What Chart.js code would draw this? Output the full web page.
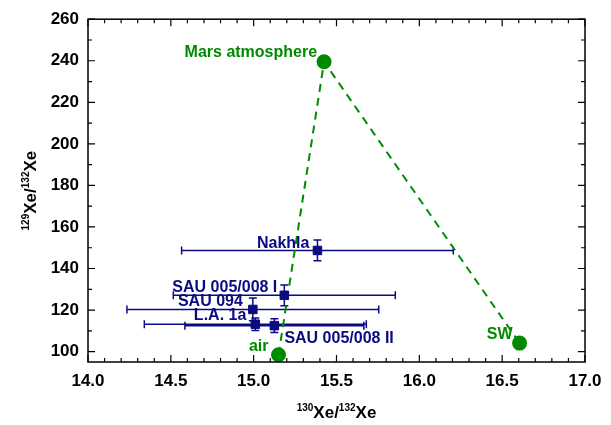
<!DOCTYPE html>
<html>
<head>
<meta charset="utf-8">
<script src="https://cdn.jsdelivr.net/npm/chart.js@4.4.0/dist/chart.umd.min.js"></script>
<style>
  html, body { margin: 0; padding: 0; background: #fff; }
  #wrap { width: 611px; height: 425px; }
</style>
</head>
<body>
<div id="wrap"><canvas id="chart"></canvas></div>
<script>
// meteorite samples
const samples = ['Nakhla', 'SAU 005/008 I', 'SAU 094', 'L.A. 1a', 'SAU 005/008 II'];
const xe130 = [15.385, 15.185, 14.995, 15.01, 15.125];
const xe129 = [148.7, 127.1, 120.3, 113.2, 112.5];
const xe130Err = [0.82, 0.67, 0.76, 0.67, 0.54];
const xe129Err = [5, 5, 5.5, 3, 3.3];

// reference reservoirs (dashed line goes air -> Mars -> SW)
const refNames = ['air', 'Mars atmosphere', 'SW'];
const ref130 = [15.15, 15.425, 16.605];
const ref129 = [98.5, 239.5, 104.1];

const xTicks = [14.0, 14.5, 15.0, 15.5, 16.0, 16.5, 17.0];
const yTicks = [100, 120, 140, 160, 180, 200, 220, 240, 260];

const GREEN = '#008a00';
const NAVY = '#0a0a82';
const FONT = '"Liberation Sans", Arial, sans-serif';

// where each text label sits relative to its point
const sampleLabelPos = [
    { dx: -8, dy: -2, align: 'right' },
    { dx: -7, dy: -3, align: 'right' },
    { dx: -10, dy: -3, align: 'right' },
    { dx: -9, dy: -4, align: 'right' },
    { dx: 10, dy: 17, align: 'left' }
];
const refLabelPos = [
    { dx: -10, dy: -4, align: 'right' },
    { dx: -7, dy: -5, align: 'right' },
    { dx: -7, dy: -4, align: 'right' }
];

function drawRich(ctx, parts, x, y) {
    // parts: [text, isSup]
    let total = 0;
    parts.forEach(p => {
        ctx.font = p[1] ? 'bold 10px ' + FONT : 'bold 17px ' + FONT;
        total += ctx.measureText(p[0]).width;
    });
    let cx = x - total / 2;
    ctx.textAlign = 'left';
    ctx.textBaseline = 'alphabetic';
    parts.forEach(p => {
        ctx.font = p[1] ? 'bold 10px ' + FONT : 'bold 17px ' + FONT;
        ctx.fillText(p[0], cx, p[1] ? y - 7 : y);
        cx += ctx.measureText(p[0]).width;
    });
}

const decorations = {
    id: 'decorations',
    beforeDatasetsDraw(chart) {
        const ctx = chart.ctx;
        const xs = chart.scales.x, ys = chart.scales.y;
        ctx.save();
        ctx.strokeStyle = NAVY;
        ctx.lineWidth = 1.5;
        for (let i = 0; i < samples.length; i++) {
            const px = xs.getPixelForValue(xe130[i]);
            const py = ys.getPixelForValue(xe129[i]);
            const x0 = xs.getPixelForValue(xe130[i] - xe130Err[i]);
            const x1 = xs.getPixelForValue(xe130[i] + xe130Err[i]);
            const y0 = ys.getPixelForValue(xe129[i] - xe129Err[i]);
            const y1 = ys.getPixelForValue(xe129[i] + xe129Err[i]);
            ctx.beginPath();
            ctx.moveTo(x0, py); ctx.lineTo(x1, py);
            ctx.moveTo(x0, py - 4); ctx.lineTo(x0, py + 4);
            ctx.moveTo(x1, py - 4); ctx.lineTo(x1, py + 4);
            ctx.moveTo(px, y0); ctx.lineTo(px, y1);
            ctx.moveTo(px - 4, y0); ctx.lineTo(px + 4, y0);
            ctx.moveTo(px - 4, y1); ctx.lineTo(px + 4, y1);
            ctx.stroke();
        }
        ctx.restore();
    },
    afterDraw(chart) {
        const ctx = chart.ctx;
        const a = chart.chartArea;
        const xs = chart.scales.x, ys = chart.scales.y;
        ctx.save();
        // frame
        ctx.strokeStyle = '#000';
        ctx.lineWidth = 1.5;
        ctx.strokeRect(a.left, a.top, a.right - a.left, a.bottom - a.top);
        // inward ticks on all four sides
        ctx.lineWidth = 1.2;
        ctx.beginPath();
        for (let v = 140; v <= 170; v++) {
            const px = xs.getPixelForValue(v / 10);
            const len = v % 5 === 0 ? 7 : 4;
            ctx.moveTo(px, a.bottom); ctx.lineTo(px, a.bottom - len);
            ctx.moveTo(px, a.top); ctx.lineTo(px, a.top + len);
        }
        for (let v = 100; v <= 260; v += 10) {
            const py = ys.getPixelForValue(v);
            const len = v % 20 === 0 ? 7 : 4;
            ctx.moveTo(a.left, py); ctx.lineTo(a.left + len, py);
            ctx.moveTo(a.right, py); ctx.lineTo(a.right - len, py);
        }
        ctx.stroke();
        // axis titles
        ctx.fillStyle = '#000';
        drawRich(ctx, [['130', true], ['Xe/', false], ['132', true], ['Xe', false]], (a.left + a.right) / 2, 418);
        ctx.save();
        ctx.translate(36, (a.top + a.bottom) / 2);
        ctx.rotate(-Math.PI / 2);
        drawRich(ctx, [['129', true], ['Xe/', false], ['132', true], ['Xe', false]], 0, 0);
        ctx.restore();
        // point labels
        ctx.font = 'bold 16px ' + FONT;
        ctx.textBaseline = 'alphabetic';
        ctx.fillStyle = NAVY;
        samples.forEach((name, i) => {
            const p = sampleLabelPos[i];
            ctx.textAlign = p.align;
            ctx.fillText(name, xs.getPixelForValue(xe130[i]) + p.dx, ys.getPixelForValue(xe129[i]) + p.dy);
        });
        ctx.fillStyle = GREEN;
        refNames.forEach((name, i) => {
            const p = refLabelPos[i];
            ctx.textAlign = p.align;
            ctx.fillText(name, xs.getPixelForValue(ref130[i]) + p.dx, ys.getPixelForValue(ref129[i]) + p.dy);
        });
        ctx.restore();
    }
};

new Chart(document.getElementById('chart'), {
    type: 'scatter',
    data: {
        datasets: [
            {
                label: 'samples',
                data: samples.map((s, i) => ({ x: xe130[i], y: xe129[i] })),
                pointStyle: 'rect',
                pointRadius: 6,
                backgroundColor: NAVY,
                borderColor: NAVY,
                order: 0
            },
            {
                label: 'reference',
                data: refNames.map((s, i) => ({ x: ref130[i], y: ref129[i] })),
                showLine: true,
                borderColor: GREEN,
                borderWidth: 2,
                borderDash: [8, 6],
                pointRadius: 6.5,
                pointBackgroundColor: GREEN,
                pointBorderColor: GREEN,
                order: 1
            }
        ]
    },
    options: {
        responsive: true,
        maintainAspectRatio: false,
        animation: false,
        layout: { padding: { top: 15, right: 26, left: 0, bottom: 0 } },
        plugins: { legend: { display: false }, tooltip: { enabled: false } },
        scales: {
            x: {
                type: 'linear',
                min: 14, max: 17,
                afterBuildTicks: scale => { scale.ticks = xTicks.map(v => ({ value: v })); },
                afterFit: scale => { scale.height = 63; },
                grid: { display: false, drawTicks: false },
                border: { display: false },
                ticks: {
                    padding: 9,
                    color: '#000',
                    font: { family: FONT, size: 17, weight: 'bold' },
                    callback: v => v.toFixed(1),
                    maxRotation: 0
                }
            },
            y: {
                type: 'linear',
                min: 95, max: 260,
                afterBuildTicks: scale => { scale.ticks = yTicks.map(v => ({ value: v })); },
                afterFit: scale => { scale.width = 88; },
                grid: { display: false, drawTicks: false },
                border: { display: false },
                ticks: {
                    padding: 9,
                    color: '#000',
                    font: { family: FONT, size: 17, weight: 'bold' }
                }
            }
        }
    },
    plugins: [decorations]
});
</script>
</body>
</html>
